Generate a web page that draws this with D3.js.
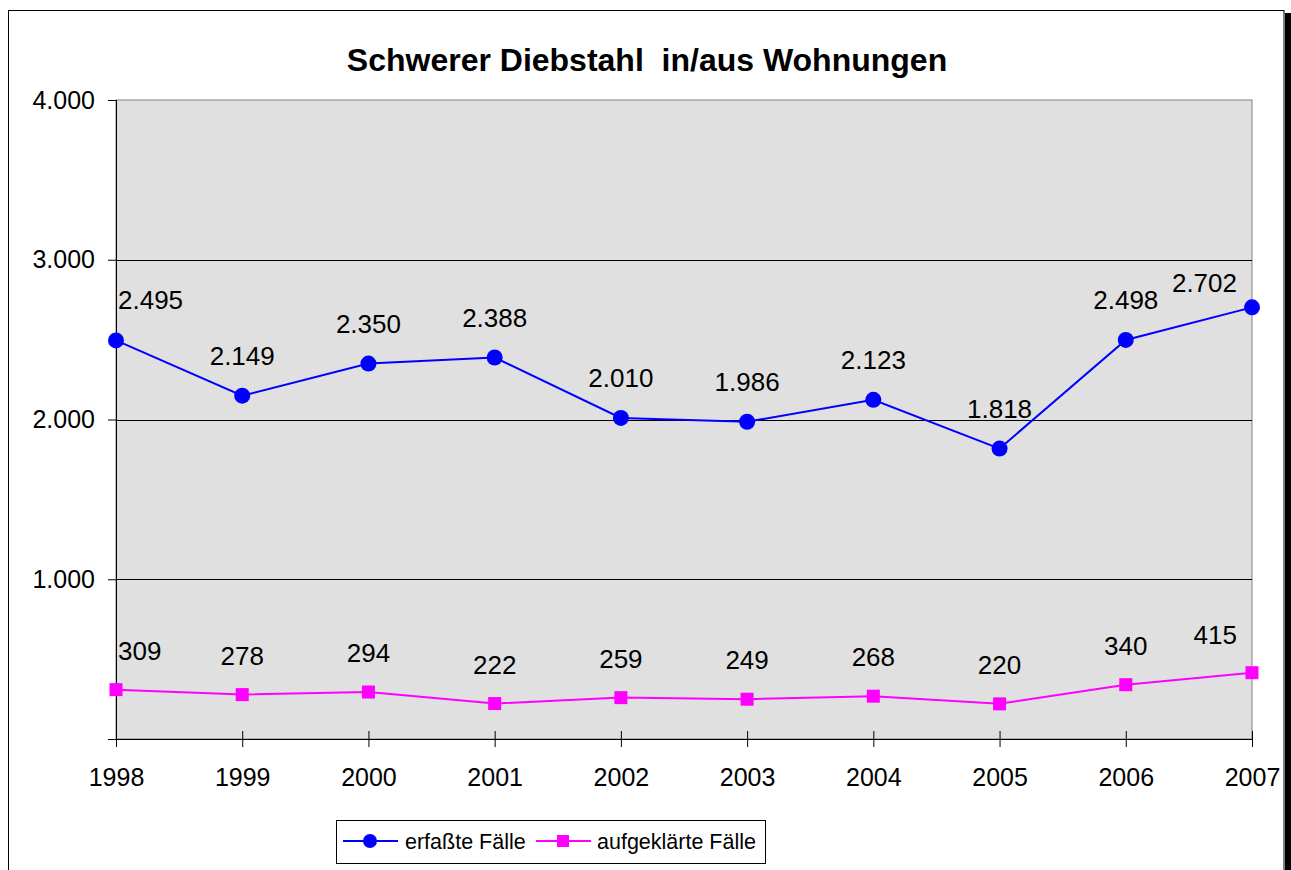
<!DOCTYPE html>
<html><head><meta charset="utf-8">
<script src="https://cdn.jsdelivr.net/npm/d3@7"></script>
<style>html,body{margin:0;background:#fff;overflow:hidden;}svg{display:block;font-family:"Liberation Sans",Arial,sans-serif;}text{white-space:pre;}</style>
</head><body>
<script>
const years = ["1998","1999","2000","2001","2002","2003","2004","2005","2006","2007"];
const erfasst = [2495,2149,2350,2388,2010,1986,2123,1818,2498,2702];
const aufgeklaert = [309,278,294,222,259,249,268,220,340,415];
const yTicks = [0,1000,2000,3000,4000];
const seriesNames = ["erfaßte Fälle","aufgeklärte Fälle"];
const title = "Schwerer Diebstahl  in/aus Wohnungen";

const W = 1291, H = 870;
const svg = d3.select("body").append("svg").attr("width", W).attr("height", H);
svg.append("rect").attr("width", W).attr("height", H).attr("fill", "#fff");

// outer frame + shadow
svg.append("rect").attr("x", 1285).attr("y", 13).attr("width", 6).attr("height", H - 13).attr("fill", "#000");
svg.append("rect").attr("x", 8.5).attr("y", 10.5).attr("width", 1275.5).attr("height", H + 10).attr("fill", "none").attr("stroke", "#000").attr("stroke-width", 1);

const L = 116, R = 1252, T = 100, B = 739;
const x = d3.scalePoint().domain(years).range([L, R]).padding(0);
const y = d3.scaleLinear().domain([0, 4000]).range([B, T]);

// plot area
svg.append("rect").attr("x", L).attr("y", T).attr("width", R - L).attr("height", B - T)
  .attr("fill", "#e0e0e0").attr("stroke", "#808080").attr("stroke-width", 1);

// gridlines
svg.append("g").selectAll("line").data(yTicks.filter(d => d > 0 && d < 4000)).join("line")
  .attr("x1", L).attr("x2", R).attr("y1", d => Math.round(y(d)) + 0.5).attr("y2", d => Math.round(y(d)) + 0.5)
  .attr("stroke", "#000").attr("stroke-width", 1);

const fmt = d => d3.format(",")(d).replace(/,/g, ".");

// y axis
const yAxis = d3.axisLeft(y).tickValues(yTicks.filter(d => d > 0)).tickFormat(fmt).tickSize(8).tickPadding(13);
const gy = svg.append("g").attr("transform", `translate(${L},0)`).call(yAxis);
gy.select(".domain").attr("d", `M0.5,${T}V${B}`).attr("stroke", "#000");
gy.selectAll(".tick line").attr("stroke", "#000");
gy.selectAll(".tick text").attr("font-size", 25).attr("font-family", "Liberation Sans, Arial, sans-serif").attr("fill", "#000");

// x axis
const xAxis = d3.axisBottom(x).tickSize(8).tickPadding(21);
const gx = svg.append("g").attr("transform", `translate(0,${B})`).call(xAxis);
gx.select(".domain").attr("d", `M${L - 8},0.5H${R}`).attr("stroke", "#000");
gx.selectAll(".tick line").attr("y1", -8).attr("y2", 8).attr("stroke", "#000");
gx.selectAll(".tick text").attr("font-size", 25).attr("font-family", "Liberation Sans, Arial, sans-serif").attr("fill", "#000");

// title
svg.append("text").attr("x", 647).attr("y", 71).attr("text-anchor", "middle")
  .attr("font-size", 32).attr("font-weight", "bold").attr("fill", "#000").text(title);

const line = d3.line().x((d, i) => x(years[i])).y(d => y(d));

// blue series
svg.append("path").datum(erfasst).attr("d", line).attr("fill", "none").attr("stroke", "#0000ff").attr("stroke-width", 2);
svg.append("g").selectAll("circle").data(erfasst).join("circle")
  .attr("cx", (d, i) => x(years[i])).attr("cy", d => y(d)).attr("r", 8).attr("fill", "#0000ff");

// pink series
svg.append("path").datum(aufgeklaert).attr("d", line).attr("fill", "none").attr("stroke", "#ff00ff").attr("stroke-width", 2);
svg.append("g").selectAll("rect").data(aufgeklaert).join("rect")
  .attr("x", (d, i) => x(years[i]) - 6.5).attr("y", d => y(d) - 6.5).attr("width", 13).attr("height", 13).attr("fill", "#ff00ff");

// data labels
function labels(data, off, lastOff) {
  const n = data.length;
  svg.append("g").selectAll("text").data(data).join("text")
    .attr("x", (d, i) => x(years[i]) + (i === 0 ? 2 : i === n - 1 ? -15 : 0))
    .attr("y", (d, i) => y(d) - (i === n - 1 ? lastOff : off))
    .attr("text-anchor", (d, i) => i === 0 ? "start" : i === n - 1 ? "end" : "middle")
    .attr("font-size", 26).attr("fill", "#000").text(fmt);
}
labels(erfasst, 31, 15);
labels(aufgeklaert, 30, 29);

// legend
const lg = svg.append("g");
lg.append("rect").attr("x", 336.5).attr("y", 820.5).attr("width", 429).attr("height", 43)
  .attr("fill", "#fff").attr("stroke", "#000").attr("stroke-width", 1);
lg.append("line").attr("x1", 343).attr("x2", 398).attr("y1", 841).attr("y2", 841).attr("stroke", "#0000ff").attr("stroke-width", 2);
lg.append("circle").attr("cx", 370).attr("cy", 841).attr("r", 7).attr("fill", "#0000ff");
lg.append("text").attr("x", 405).attr("y", 848.5).attr("font-size", 21.5).attr("fill", "#000").text(seriesNames[0]);
lg.append("line").attr("x1", 536).attr("x2", 591).attr("y1", 841).attr("y2", 841).attr("stroke", "#ff00ff").attr("stroke-width", 2);
lg.append("rect").attr("x", 557).attr("y", 835).attr("width", 12).attr("height", 12).attr("fill", "#ff00ff");
lg.append("text").attr("x", 597).attr("y", 848.5).attr("font-size", 21.5).attr("fill", "#000").text(seriesNames[1]);
</script>
</body></html>
